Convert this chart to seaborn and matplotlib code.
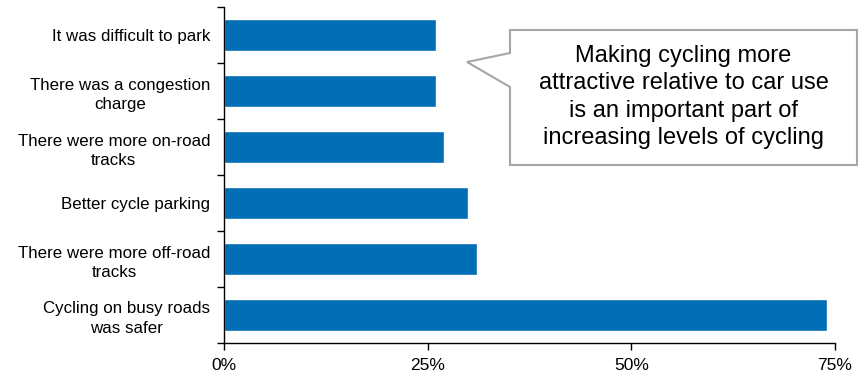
import numpy as np
import pandas as pd
import matplotlib
matplotlib.use("Agg")
import matplotlib.pyplot as plt
from matplotlib.patches import Polygon
import seaborn as sns

reasons = [
    "It was difficult to park",
    "There was a congestion\ncharge",
    "There were more on-road\ntracks",
    "Better cycle parking",
    "There were more off-road\ntracks",
    "Cycling on busy roads\nwas safer",
]
share = [26, 26, 27, 30, 31, 74]
x_ticks = [0, 25, 50, 75]
x_labels = ["0%", "25%", "50%", "75%"]
callout = "Making cycling more\nattractive relative to car use\nis an important part of\nincreasing levels of cycling"

sns.set_style("white")
plt.rcParams["font.family"] = ["Liberation Sans", "DejaVu Sans"]
plt.rcParams["text.color"] = "black"
plt.rcParams["xtick.color"] = "black"
plt.rcParams["ytick.color"] = "black"

df = pd.DataFrame({"reason": reasons, "share": share})

W, H = 866, 378
fig = plt.figure(figsize=(W / 100, H / 100), dpi=100)
ax = fig.add_axes([224 / W, 1 - 343 / H, (835 - 224) / W, (343 - 7) / H])

sns.barplot(data=df, x="share", y="reason", orient="h", color="#006DB5",
            saturation=1, width=0.58, ax=ax)

ax.set_xlim(0, 75)
ax.set_ylim(len(reasons) - 0.5, -0.5)
ax.set_xticks(x_ticks)
ax.set_xticklabels(x_labels, fontsize=12.5)
ax.set_yticks(range(len(reasons)))
ax.set_yticklabels(reasons, fontsize=12.2, ha="right", multialignment="center",
                   linespacing=1.4)
ax.tick_params(axis="y", length=0, pad=10)
ax.set_yticks(np.arange(-0.5, len(reasons), 1), minor=True)
ax.tick_params(axis="y", which="minor", length=5, width=1, left=True)
ax.tick_params(axis="x", length=5, width=1, bottom=True, pad=6)
ax.set_xlabel("")
ax.set_ylabel("")
sns.despine(ax=ax, top=True, right=True)
for s in ["left", "bottom"]:
    ax.spines[s].set_color("black")
    ax.spines[s].set_linewidth(1)

# callout box with pointer (pixel coords -> figure fraction)
pts = [(510, 30), (857, 30), (857, 165), (510, 165), (510, 87), (467, 62), (510, 53)]
pts = [(x / W, 1 - y / H) for x, y in pts]
fig.patches.append(Polygon(pts, closed=True, transform=fig.transFigure,
                           facecolor="white", edgecolor="#A6A6A6", linewidth=1.5))
fig.text((510 + 857) / 2 / W, 1 - 97 / H, callout, ha="center", va="center",
         fontsize=17, linespacing=1.3)

fig.savefig("out.png", dpi=100)
